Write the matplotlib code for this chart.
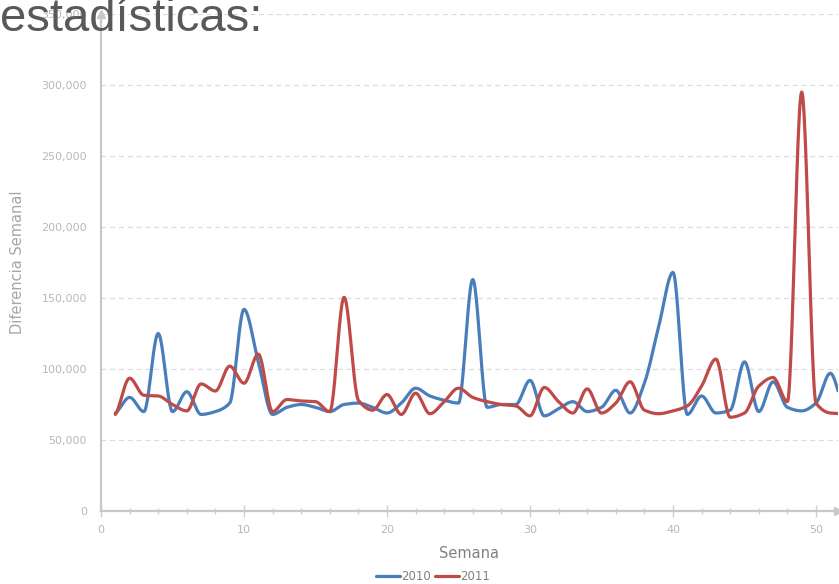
import numpy as np
import matplotlib
matplotlib.use("Agg")
import matplotlib.pyplot as plt
from matplotlib.ticker import FuncFormatter, MultipleLocator

weeks = list(range(1, 53))
s2010 = [69000, 80000, 70000, 125000, 70000, 84000, 68000, 70000, 76000, 142000,
         105000, 68000, 73000, 75000, 73000, 70000, 75000, 76000, 73000, 69000,
         76000, 86500, 81000, 78000, 76000, 163000, 73000, 75000, 75000, 92000,
         67000, 72000, 77000, 70000, 73000, 85000, 69000, 90000, 130000, 168000,
         68000, 81000, 69000, 71000, 105000, 70000, 91000, 73000, 70500, 76000,
         97000, 72000]
s2011 = [68000, 93500, 81500, 81000, 75000, 70500, 89500, 84500, 102000, 90000,
         110500, 70000, 78500, 77500, 77000, 70000, 150500, 78000, 71000, 82000,
         68000, 83000, 68500, 77000, 86500, 80000, 77000, 75000, 74000, 67000,
         87000, 77000, 69000, 86000, 69000, 76000, 91000, 71000, 68500, 70500,
         74000, 88000, 107000, 66000, 69000, 88000, 94000, 77000, 295000, 76000,
         69000, 68500]
series_names = ["2010", "2011"]
colors = ["#4a7ebb", "#be4b48"]
yticks = [0, 50000, 100000, 150000, 200000, 250000, 300000, 350000]
xticks = [0, 10, 20, 30, 40, 50]


def smooth(x, y, n=24):
    """Monotone (PCHIP-style) cubic path through the data points, for drawing only."""
    x = np.asarray(x, float)
    y = np.asarray(y, float)
    h = np.diff(x)
    d = np.diff(y) / h
    m = np.zeros_like(y)
    for i in range(1, len(y) - 1):
        if d[i - 1] * d[i] > 0:
            w1 = 2 * h[i] + h[i - 1]
            w2 = h[i] + 2 * h[i - 1]
            m[i] = (w1 + w2) / (w1 / d[i - 1] + w2 / d[i])
    m[0] = d[0] * 0.5
    m[-1] = d[-1] * 0.5
    t = np.linspace(0, 1, n, endpoint=False)
    xs, ys = [], []
    for i in range(len(x) - 1):
        h00 = 2 * t**3 - 3 * t**2 + 1
        h10 = t**3 - 2 * t**2 + t
        h01 = -2 * t**3 + 3 * t**2
        h11 = t**3 - t**2
        ys.append(h00 * y[i] + h10 * h[i] * m[i] + h01 * y[i + 1] + h11 * h[i] * m[i + 1])
        xs.append(x[i] + t * h[i])
    xs.append([x[-1]])
    ys.append([y[-1]])
    return np.concatenate(xs), np.concatenate(ys)


fig = plt.figure(figsize=(8.39, 5.84), dpi=100)
W, H = 839, 584
left, right, bottom, top = 101, 838, 584 - 511, 584 - 14
ax = fig.add_axes([left / W, bottom / H, (right - left) / W, (top - bottom) / H])

for name, vals, c in zip(series_names, [s2010, s2011], colors):
    xs, ys = smooth(weeks, vals)
    ax.plot(xs, ys, color=c, lw=2.3, label=name, solid_capstyle="round", zorder=3)

ax.set_xlim(0, (right - left) / 14.3)
ax.set_ylim(0, 350000)
ax.set_yticks(yticks)
ax.set_xticks(xticks)
ax.xaxis.set_minor_locator(MultipleLocator(2))
ax.yaxis.set_major_formatter(FuncFormatter(lambda v, p: f"{int(v):,}"))
ax.grid(axis="y", color="#dcdcdc", linestyle=(0, (4, 3)), lw=0.9)
ax.set_axisbelow(True)
for s in ["top", "right"]:
    ax.spines[s].set_visible(False)
for s in ["left", "bottom"]:
    ax.spines[s].set_color("#c8c8c8")
    ax.spines[s].set_linewidth(1.6)
ax.tick_params(axis="y", length=0, labelsize=8, labelcolor="#b8b8b8", pad=10)
ax.tick_params(axis="x", which="major", direction="inout", length=8, width=1,
               color="#d0d0d0", labelsize=8, labelcolor="#b8b8b8", pad=6)
ax.tick_params(axis="x", which="minor", direction="inout", length=4, width=1,
               color="#d0d0d0")
ax.plot([0], [1], marker="^", color="#c8c8c8", ms=6, transform=ax.transAxes, clip_on=False)
ax.plot([1], [0], marker=">", color="#c8c8c8", ms=6, transform=ax.transAxes, clip_on=False)

ax.set_xlabel("Semana", fontsize=10.5, color="#808080", labelpad=8)
ax.set_ylabel("Diferencia Semanal", fontsize=10.5, color="#a6a6a6", labelpad=12)

fig.legend(loc="center", bbox_to_anchor=(433 / W, 1 - 577 / H), ncol=2, frameon=False,
           fontsize=8.5, handlelength=2.0, handletextpad=0.1, columnspacing=0.4,
           labelcolor="#808080")

fig.text(0, 1 - 31 / H, "estadísticas:", fontsize=34, color="#595959",
         family="Liberation Sans", va="baseline", ha="left", zorder=10)

fig.savefig("out.png", dpi=100)
